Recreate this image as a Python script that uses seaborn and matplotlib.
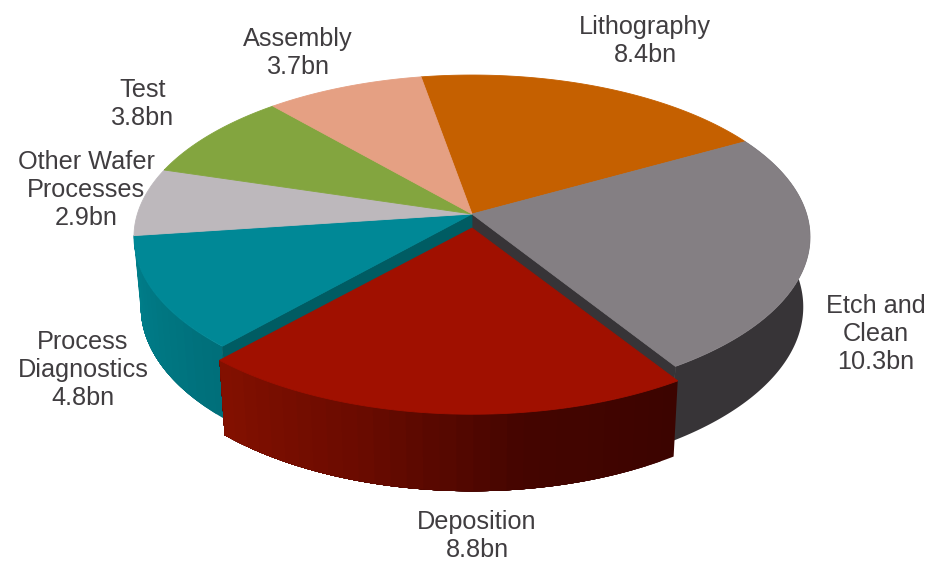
import numpy as np
import pandas as pd
import matplotlib
matplotlib.use("Agg")
import matplotlib.pyplot as plt
import seaborn as sns

sns.set_theme(style="white")
plt.rcParams["font.family"] = ["Liberation Sans", "DejaVu Sans"]

# clockwise from the Lithography / Assembly border
categories = ["Lithography", "Etch and\nClean", "Deposition", "Process\nDiagnostics",
              "Other Wafer\nProcesses", "Test", "Assembly"]
values = [8.4, 10.3, 8.8, 4.8, 2.9, 3.8, 3.7]
top_colors = ["#C56000", "#847F83", "#A01000", "#008896", "#BDB8BC", "#83A53F", "#E5A083"]
cut_colors = ["#8A4300", "#373437", "#6E0B00", "#005C63", "#85818A", "#5C742C", "#A0705C"]

df = pd.DataFrame({"category": categories, "value": values, "color": top_colors, "cut": cut_colors})
df["end"] = -10 + 360 * df["value"].cumsum() / df["value"].sum()
df["start"] = df["end"] - 360 * df["value"] / df["value"].sum()

# label centres in pixels
label_xy = [(645, 41), (876, 334), (477, 536), (83, 370), (86, 190), (143, 104), (298, 53)]

# perspective of the pie, in pixels
CX, CY = 472, 214
A, B, K = 334.6, 158.7, 0.142
DEPTH, SX, SY = 69, 0.98, 1.04
EXPLODE = 0.07


def project(x, y, low=False):
    w = 1 + K * y
    px = A * x / w
    py = B * y / w
    if low:
        return CX + SX * px, CY + DEPTH - SY * py
    return CX + px, CY - py


def rim(start, end, shift=0.0, n=120):
    t = np.radians(np.linspace(start, end, n))
    return np.sin(t), np.cos(t) - shift


def poly(ax, xs, ys, color, z, lw=0.6):
    ax.fill(xs, ys, color=color, lw=lw, zorder=z)


def wall(ax, start, end, colors, z, shift=0.0):
    # outer side of a slice, painted over itself strip by strip for the shading
    edges = np.linspace(start, end, len(colors) + 1)
    for i, c in enumerate(colors):
        x, y = rim(edges[i], end, shift)
        tx, ty = project(x, y)
        bx, by = project(x, y, low=True)
        poly(ax, np.r_[tx, bx[::-1]], np.r_[ty, by[::-1]], c, z, lw=0)


def cut(ax, angle, color, z):
    # radial side of a slice, seen through the gap of the moved slice
    x, y = rim(angle, angle, 0, 1)
    tx, ty = project(x, y)
    bx, by = project(x, y, low=True)
    ax0, ay0 = project(0.0, 0.0)
    ax1, ay1 = project(0.0, 0.0, low=True)
    poly(ax, [ax0, tx[0], bx[0], ax1], [ay0, ty[0], by[0], ay1], color, z)


def top(ax, start, end, color, z, shift=0.0):
    x, y = rim(start, end, shift)
    px, py = project(np.r_[0.0, x], np.r_[-shift * 1.25, y])
    poly(ax, px, py, color, z)


fig = plt.figure(figsize=(9.27, 5.62), dpi=100)
ax = fig.add_axes([0, 0, 1, 1])
ax.set_xlim(0, 927)
ax.set_ylim(562, 0)
ax.axis("off")

etch, dep, proc = df.iloc[1], df.iloc[2], df.iloc[3]

wall(ax, proc["start"], proc["end"], sns.blend_palette(["#006F7A", "#00808C"], 16), 1)
wall(ax, etch["start"], etch["end"], [etch["cut"]], 1)
cut(ax, etch["end"], etch["cut"], 2)
cut(ax, proc["start"], proc["cut"], 2)

for i, row in df.iterrows():
    if row["category"] != "Deposition":
        top(ax, row["start"], row["end"], row["color"], 3)

wall(ax, dep["start"], dep["end"], sns.blend_palette(["#3C0400", "#450500", "#6A0B00", "#821000"], 30), 4, EXPLODE)
top(ax, dep["start"], dep["end"], dep["color"], 5, EXPLODE)

for cat, val, (lx, ly) in zip(categories, values, label_xy):
    ax.text(lx, ly, f"{cat}\n{val}bn", ha="center", va="center", fontsize=18.2,
            color="#403D40", linespacing=1.2, zorder=6)

fig.savefig("out.png", dpi=100, facecolor="white")
plt.close(fig)
